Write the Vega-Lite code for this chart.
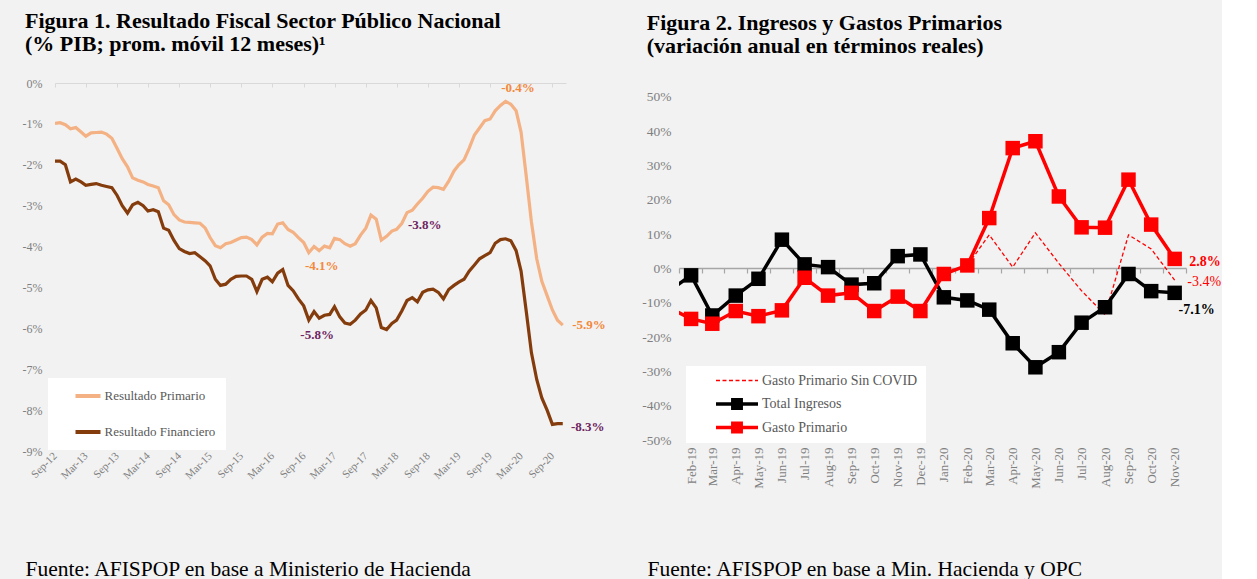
{
  "$schema": "https://vega.github.io/schema/vega-lite/v6.json",
  "background": "#f2f2f2",
  "padding": {"left": 22, "top": 10, "right": 0, "bottom": 0},
  "spacing": 35,
  "resolve": {"scale": {"color": "independent"}, "legend": {"color": "independent"}},
  "config": {
    "view": {"stroke": null},
    "font": "Liberation Serif",
    "axis": {"grid": false, "domain": false, "ticks": false, "labelFont": "Liberation Serif", "labelColor": "#7f7f7f", "labelOverlap": false},
    "legend": {"labelFont": "Liberation Serif", "labelColor": "#595959"}
  },
  "datasets": {
    "fiscal": [
      {"fecha":"2012-09-01","Resultado Primario":-0.99,"Resultado Financiero":-1.91},
      {"fecha":"2012-10-01","Resultado Primario":-0.97,"Resultado Financiero":-1.91},
      {"fecha":"2012-11-01","Resultado Primario":-1.02,"Resultado Financiero":-2.00},
      {"fecha":"2012-12-01","Resultado Primario":-1.12,"Resultado Financiero":-2.42},
      {"fecha":"2013-01-01","Resultado Primario":-1.09,"Resultado Financiero":-2.35},
      {"fecha":"2013-02-01","Resultado Primario":-1.20,"Resultado Financiero":-2.42},
      {"fecha":"2013-03-01","Resultado Primario":-1.30,"Resultado Financiero":-2.50},
      {"fecha":"2013-04-01","Resultado Primario":-1.22,"Resultado Financiero":-2.48},
      {"fecha":"2013-05-01","Resultado Primario":-1.21,"Resultado Financiero":-2.46},
      {"fecha":"2013-06-01","Resultado Primario":-1.20,"Resultado Financiero":-2.50},
      {"fecha":"2013-07-01","Resultado Primario":-1.25,"Resultado Financiero":-2.53},
      {"fecha":"2013-08-01","Resultado Primario":-1.35,"Resultado Financiero":-2.56},
      {"fecha":"2013-09-01","Resultado Primario":-1.60,"Resultado Financiero":-2.75},
      {"fecha":"2013-10-01","Resultado Primario":-1.85,"Resultado Financiero":-3.00},
      {"fecha":"2013-11-01","Resultado Primario":-2.05,"Resultado Financiero":-3.18},
      {"fecha":"2013-12-01","Resultado Primario":-2.32,"Resultado Financiero":-2.98},
      {"fecha":"2014-01-01","Resultado Primario":-2.38,"Resultado Financiero":-2.92},
      {"fecha":"2014-02-01","Resultado Primario":-2.42,"Resultado Financiero":-3.00},
      {"fecha":"2014-03-01","Resultado Primario":-2.48,"Resultado Financiero":-3.13},
      {"fecha":"2014-04-01","Resultado Primario":-2.52,"Resultado Financiero":-3.10},
      {"fecha":"2014-05-01","Resultado Primario":-2.56,"Resultado Financiero":-3.15},
      {"fecha":"2014-06-01","Resultado Primario":-2.88,"Resultado Financiero":-3.55},
      {"fecha":"2014-07-01","Resultado Primario":-2.98,"Resultado Financiero":-3.60},
      {"fecha":"2014-08-01","Resultado Primario":-3.22,"Resultado Financiero":-3.85},
      {"fecha":"2014-09-01","Resultado Primario":-3.35,"Resultado Financiero":-4.05},
      {"fecha":"2014-10-01","Resultado Primario":-3.40,"Resultado Financiero":-4.12},
      {"fecha":"2014-11-01","Resultado Primario":-3.41,"Resultado Financiero":-4.17},
      {"fecha":"2014-12-01","Resultado Primario":-3.42,"Resultado Financiero":-4.15},
      {"fecha":"2015-01-01","Resultado Primario":-3.43,"Resultado Financiero":-4.25},
      {"fecha":"2015-02-01","Resultado Primario":-3.55,"Resultado Financiero":-4.35},
      {"fecha":"2015-03-01","Resultado Primario":-3.78,"Resultado Financiero":-4.47},
      {"fecha":"2015-04-01","Resultado Primario":-3.98,"Resultado Financiero":-4.80},
      {"fecha":"2015-05-01","Resultado Primario":-4.03,"Resultado Financiero":-4.95},
      {"fecha":"2015-06-01","Resultado Primario":-3.93,"Resultado Financiero":-4.92},
      {"fecha":"2015-07-01","Resultado Primario":-3.90,"Resultado Financiero":-4.80},
      {"fecha":"2015-08-01","Resultado Primario":-3.84,"Resultado Financiero":-4.73},
      {"fecha":"2015-09-01","Resultado Primario":-3.78,"Resultado Financiero":-4.72},
      {"fecha":"2015-10-01","Resultado Primario":-3.77,"Resultado Financiero":-4.72},
      {"fecha":"2015-11-01","Resultado Primario":-3.83,"Resultado Financiero":-4.80},
      {"fecha":"2015-12-01","Resultado Primario":-3.96,"Resultado Financiero":-5.10},
      {"fecha":"2016-01-01","Resultado Primario":-3.77,"Resultado Financiero":-4.80},
      {"fecha":"2016-02-01","Resultado Primario":-3.68,"Resultado Financiero":-4.75},
      {"fecha":"2016-03-01","Resultado Primario":-3.69,"Resultado Financiero":-4.86},
      {"fecha":"2016-04-01","Resultado Primario":-3.45,"Resultado Financiero":-4.65},
      {"fecha":"2016-05-01","Resultado Primario":-3.42,"Resultado Financiero":-4.56},
      {"fecha":"2016-06-01","Resultado Primario":-3.58,"Resultado Financiero":-4.95},
      {"fecha":"2016-07-01","Resultado Primario":-3.65,"Resultado Financiero":-5.08},
      {"fecha":"2016-08-01","Resultado Primario":-3.78,"Resultado Financiero":-5.28},
      {"fecha":"2016-09-01","Resultado Primario":-3.90,"Resultado Financiero":-5.45},
      {"fecha":"2016-10-01","Resultado Primario":-4.15,"Resultado Financiero":-5.80},
      {"fecha":"2016-11-01","Resultado Primario":-4.00,"Resultado Financiero":-5.59},
      {"fecha":"2016-12-01","Resultado Primario":-4.10,"Resultado Financiero":-5.75},
      {"fecha":"2017-01-01","Resultado Primario":-3.99,"Resultado Financiero":-5.68},
      {"fecha":"2017-02-01","Resultado Primario":-4.03,"Resultado Financiero":-5.66},
      {"fecha":"2017-03-01","Resultado Primario":-3.80,"Resultado Financiero":-5.47},
      {"fecha":"2017-04-01","Resultado Primario":-3.83,"Resultado Financiero":-5.72},
      {"fecha":"2017-05-01","Resultado Primario":-3.93,"Resultado Financiero":-5.87},
      {"fecha":"2017-06-01","Resultado Primario":-3.99,"Resultado Financiero":-5.90},
      {"fecha":"2017-07-01","Resultado Primario":-3.93,"Resultado Financiero":-5.80},
      {"fecha":"2017-08-01","Resultado Primario":-3.72,"Resultado Financiero":-5.65},
      {"fecha":"2017-09-01","Resultado Primario":-3.55,"Resultado Financiero":-5.55},
      {"fecha":"2017-10-01","Resultado Primario":-3.23,"Resultado Financiero":-5.32},
      {"fecha":"2017-11-01","Resultado Primario":-3.33,"Resultado Financiero":-5.50},
      {"fecha":"2017-12-01","Resultado Primario":-3.84,"Resultado Financiero":-5.98},
      {"fecha":"2018-01-01","Resultado Primario":-3.75,"Resultado Financiero":-6.03},
      {"fecha":"2018-02-01","Resultado Primario":-3.62,"Resultado Financiero":-5.88},
      {"fecha":"2018-03-01","Resultado Primario":-3.58,"Resultado Financiero":-5.80},
      {"fecha":"2018-04-01","Resultado Primario":-3.43,"Resultado Financiero":-5.57},
      {"fecha":"2018-05-01","Resultado Primario":-3.17,"Resultado Financiero":-5.32},
      {"fecha":"2018-06-01","Resultado Primario":-3.11,"Resultado Financiero":-5.25},
      {"fecha":"2018-07-01","Resultado Primario":-2.96,"Resultado Financiero":-5.35},
      {"fecha":"2018-08-01","Resultado Primario":-2.82,"Resultado Financiero":-5.12},
      {"fecha":"2018-09-01","Resultado Primario":-2.65,"Resultado Financiero":-5.06},
      {"fecha":"2018-10-01","Resultado Primario":-2.55,"Resultado Financiero":-5.04},
      {"fecha":"2018-11-01","Resultado Primario":-2.56,"Resultado Financiero":-5.12},
      {"fecha":"2018-12-01","Resultado Primario":-2.60,"Resultado Financiero":-5.28},
      {"fecha":"2019-01-01","Resultado Primario":-2.40,"Resultado Financiero":-5.05},
      {"fecha":"2019-02-01","Resultado Primario":-2.15,"Resultado Financiero":-4.95},
      {"fecha":"2019-03-01","Resultado Primario":-2.00,"Resultado Financiero":-4.87},
      {"fecha":"2019-04-01","Resultado Primario":-1.88,"Resultado Financiero":-4.80},
      {"fecha":"2019-05-01","Resultado Primario":-1.60,"Resultado Financiero":-4.60},
      {"fecha":"2019-06-01","Resultado Primario":-1.27,"Resultado Financiero":-4.45},
      {"fecha":"2019-07-01","Resultado Primario":-1.10,"Resultado Financiero":-4.30},
      {"fecha":"2019-08-01","Resultado Primario":-0.92,"Resultado Financiero":-4.22},
      {"fecha":"2019-09-01","Resultado Primario":-0.88,"Resultado Financiero":-4.15},
      {"fecha":"2019-10-01","Resultado Primario":-0.68,"Resultado Financiero":-3.92},
      {"fecha":"2019-11-01","Resultado Primario":-0.55,"Resultado Financiero":-3.83},
      {"fecha":"2019-12-01","Resultado Primario":-0.45,"Resultado Financiero":-3.81},
      {"fecha":"2020-01-01","Resultado Primario":-0.52,"Resultado Financiero":-3.86},
      {"fecha":"2020-02-01","Resultado Primario":-0.68,"Resultado Financiero":-4.10},
      {"fecha":"2020-03-01","Resultado Primario":-1.20,"Resultado Financiero":-4.60},
      {"fecha":"2020-04-01","Resultado Primario":-2.30,"Resultado Financiero":-5.60},
      {"fecha":"2020-05-01","Resultado Primario":-3.40,"Resultado Financiero":-6.60},
      {"fecha":"2020-06-01","Resultado Primario":-4.30,"Resultado Financiero":-7.25},
      {"fecha":"2020-07-01","Resultado Primario":-4.85,"Resultado Financiero":-7.70},
      {"fecha":"2020-08-01","Resultado Primario":-5.20,"Resultado Financiero":-8.00},
      {"fecha":"2020-09-01","Resultado Primario":-5.55,"Resultado Financiero":-8.35},
      {"fecha":"2020-10-01","Resultado Primario":-5.80,"Resultado Financiero":-8.33},
      {"fecha":"2020-11-01","Resultado Primario":-5.92,"Resultado Financiero":-8.33}
    ],
    "etiquetas1": [
      {"fecha":"2020-02-12","v":-0.12,"txt":"-0.4%","grupo":"P"},
      {"fecha":"2016-12-16","v":-4.47,"txt":"-4.1%","grupo":"P"},
      {"fecha":"2021-04-04","v":-5.92,"txt":"-5.9%","grupo":"P"},
      {"fecha":"2018-08-13","v":-3.47,"txt":"-3.8%","grupo":"F"},
      {"fecha":"2016-11-19","v":-6.16,"txt":"-5.8%","grupo":"F"},
      {"fecha":"2021-03-28","v":-8.41,"txt":"-8.3%","grupo":"F"}
    ],
    "variacion": [
      {"mes":"2019-01-01","serie":"Total Ingresos","v":-6.8},
      {"mes":"2019-02-01","serie":"Total Ingresos","v":-2.0},
      {"mes":"2019-03-01","serie":"Total Ingresos","v":-13.7},
      {"mes":"2019-04-01","serie":"Total Ingresos","v":-7.9},
      {"mes":"2019-05-01","serie":"Total Ingresos","v":-3.0},
      {"mes":"2019-06-01","serie":"Total Ingresos","v":8.4},
      {"mes":"2019-07-01","serie":"Total Ingresos","v":1.2},
      {"mes":"2019-08-01","serie":"Total Ingresos","v":0.4},
      {"mes":"2019-09-01","serie":"Total Ingresos","v":-4.7},
      {"mes":"2019-10-01","serie":"Total Ingresos","v":-4.3},
      {"mes":"2019-11-01","serie":"Total Ingresos","v":3.6},
      {"mes":"2019-12-01","serie":"Total Ingresos","v":4.1},
      {"mes":"2020-01-01","serie":"Total Ingresos","v":-8.4},
      {"mes":"2020-02-01","serie":"Total Ingresos","v":-9.3},
      {"mes":"2020-03-01","serie":"Total Ingresos","v":-12.0},
      {"mes":"2020-04-01","serie":"Total Ingresos","v":-21.8},
      {"mes":"2020-05-01","serie":"Total Ingresos","v":-28.8},
      {"mes":"2020-06-01","serie":"Total Ingresos","v":-24.4},
      {"mes":"2020-07-01","serie":"Total Ingresos","v":-15.8},
      {"mes":"2020-08-01","serie":"Total Ingresos","v":-11.3},
      {"mes":"2020-09-01","serie":"Total Ingresos","v":-1.6},
      {"mes":"2020-10-01","serie":"Total Ingresos","v":-6.6},
      {"mes":"2020-11-01","serie":"Total Ingresos","v":-7.1},
      {"mes":"2019-01-01","serie":"Gasto Primario","v":-11.2},
      {"mes":"2019-02-01","serie":"Gasto Primario","v":-14.7},
      {"mes":"2019-03-01","serie":"Gasto Primario","v":-16.1},
      {"mes":"2019-04-01","serie":"Gasto Primario","v":-12.4},
      {"mes":"2019-05-01","serie":"Gasto Primario","v":-13.9},
      {"mes":"2019-06-01","serie":"Gasto Primario","v":-12.2},
      {"mes":"2019-07-01","serie":"Gasto Primario","v":-2.7},
      {"mes":"2019-08-01","serie":"Gasto Primario","v":-7.9},
      {"mes":"2019-09-01","serie":"Gasto Primario","v":-7.1},
      {"mes":"2019-10-01","serie":"Gasto Primario","v":-12.4},
      {"mes":"2019-11-01","serie":"Gasto Primario","v":-8.2},
      {"mes":"2019-12-01","serie":"Gasto Primario","v":-12.4},
      {"mes":"2020-01-01","serie":"Gasto Primario","v":-1.6},
      {"mes":"2020-02-01","serie":"Gasto Primario","v":0.9},
      {"mes":"2020-03-01","serie":"Gasto Primario","v":14.7},
      {"mes":"2020-04-01","serie":"Gasto Primario","v":35.1},
      {"mes":"2020-05-01","serie":"Gasto Primario","v":37.1},
      {"mes":"2020-06-01","serie":"Gasto Primario","v":21.0},
      {"mes":"2020-07-01","serie":"Gasto Primario","v":12.0},
      {"mes":"2020-08-01","serie":"Gasto Primario","v":11.9},
      {"mes":"2020-09-01","serie":"Gasto Primario","v":25.9},
      {"mes":"2020-10-01","serie":"Gasto Primario","v":12.8},
      {"mes":"2020-11-01","serie":"Gasto Primario","v":2.8},
      {"mes":"2020-01-01","serie":"Gasto Primario Sin COVID","v":-1.6},
      {"mes":"2020-02-01","serie":"Gasto Primario Sin COVID","v":0.9},
      {"mes":"2020-03-01","serie":"Gasto Primario Sin COVID","v":9.8},
      {"mes":"2020-04-01","serie":"Gasto Primario Sin COVID","v":0.4},
      {"mes":"2020-05-01","serie":"Gasto Primario Sin COVID","v":10.4},
      {"mes":"2020-06-01","serie":"Gasto Primario Sin COVID","v":1.5},
      {"mes":"2020-07-01","serie":"Gasto Primario Sin COVID","v":-6.5},
      {"mes":"2020-08-01","serie":"Gasto Primario Sin COVID","v":-13.5},
      {"mes":"2020-09-01","serie":"Gasto Primario Sin COVID","v":9.8},
      {"mes":"2020-10-01","serie":"Gasto Primario Sin COVID","v":5.7},
      {"mes":"2020-11-01","serie":"Gasto Primario Sin COVID","v":-3.4}
    ],
    "etiquetas2": [
      {"mes":"2020-12-11","v":2.0,"txt":"2.8%","grupo":"GP"},
      {"mes":"2020-12-10","v":-3.8,"txt":"-3.4%","grupo":"SC"},
      {"mes":"2020-11-30","v":-12.0,"txt":"-7.1%","grupo":"TI"}
    ]
  },
  "hconcat": [
    {
      "width": 511,
      "height": 368,
      "title": {
        "text": ["Figura 1. Resultado Fiscal Sector Público Nacional", "(% PIB; prom. móvil 12 meses)¹"],
        "anchor": "start", "frame": "bounds", "font": "Liberation Serif", "fontSize": 22, "fontWeight": "bold",
        "color": "#000000", "lineHeight": 23, "offset": 21, "dx": 3
      },
      "layer": [
        {
          "data": {"name": "fiscal"},
          "transform": [{"fold": ["Resultado Primario", "Resultado Financiero"], "as": ["serie", "valor"]}],
          "mark": {"type": "line", "strokeWidth": 3.2, "clip": true},
          "encoding": {
            "x": {
              "field": "fecha", "type": "temporal",
              "scale": {"domain": [{"year": 2012, "month": 9, "date": 1}, {"year": 2020, "month": 11, "date": 20}]},
              "axis": {
                "values": [
                  {"year": 2012, "month": 9, "date": 1}, {"year": 2013, "month": 3, "date": 1}, {"year": 2013, "month": 9, "date": 1},
                  {"year": 2014, "month": 3, "date": 1}, {"year": 2014, "month": 9, "date": 1}, {"year": 2015, "month": 3, "date": 1},
                  {"year": 2015, "month": 9, "date": 1}, {"year": 2016, "month": 3, "date": 1}, {"year": 2016, "month": 9, "date": 1},
                  {"year": 2017, "month": 3, "date": 1}, {"year": 2017, "month": 9, "date": 1}, {"year": 2018, "month": 3, "date": 1},
                  {"year": 2018, "month": 9, "date": 1}, {"year": 2019, "month": 3, "date": 1}, {"year": 2019, "month": 9, "date": 1},
                  {"year": 2020, "month": 3, "date": 1}, {"year": 2020, "month": 9, "date": 1}
                ],
                "format": "%b-%y", "labelAngle": -45, "labelAlign": "right", "labelBaseline": "middle",
                "labelFontSize": 11, "labelPadding": 3, "labelOverlap": false,
                "title": "Fuente: AFISPOP en base a Ministerio de Hacienda",
                "titleFont": "Liberation Serif", "titleFontSize": 21.5, "titleFontWeight": "normal", "titleColor": "#000000",
                "titleAnchor": "start", "titleAlign": "left", "titleBaseline": "alphabetic", "titleX": -30, "titleY": 124
              }
            },
            "y": {
              "field": "valor", "type": "quantitative",
              "scale": {"domain": [-9, 0], "nice": false, "zero": false},
              "axis": {"values": [0, -1, -2, -3, -4, -5, -6, -7, -8, -9], "labelExpr": "datum.value + '%'", "labelFontSize": 12, "labelPadding": 13, "labelOverlap": false, "title": null}
            },
            "color": {
              "field": "serie", "type": "nominal",
              "scale": {"domain": ["Resultado Primario", "Resultado Financiero"], "range": ["#F4B183", "#843C0C"]},
              "legend": {
                "title": null, "orient": "none", "legendX": -7, "legendY": 295, "direction": "vertical",
                "fillColor": "#ffffff", "padding": 10.5, "symbolOffset": 15, "symbolType": "stroke", "symbolSize": 625,
                "symbolStrokeWidth": 4, "labelFontSize": 13, "rowPadding": 21, "clipHeight": 15, "labelOffset": 2
              }
            }
          }
        },
        {
          "data": {"name": "etiquetas1"},
          "transform": [{"filter": "datum.grupo === 'P'"}],
          "mark": {"type": "text", "font": "Liberation Serif", "fontSize": 13, "fontWeight": "bold", "color": "#F4883A", "align": "center", "baseline": "middle"},
          "encoding": {
            "x": {
              "field": "fecha", "type": "temporal",
              "axis": {
                "orient": "bottom", "offset": -368, "domain": true, "domainColor": "#d9d9d9", "domainWidth": 1.2,
                "ticks": true, "tickSize": 4, "tickColor": "#d9d9d9", "labels": false, "title": null,
                "values": [
                  {"year": 2012, "month": 9, "date": 1}, {"year": 2013, "month": 3, "date": 1}, {"year": 2013, "month": 9, "date": 1},
                  {"year": 2014, "month": 3, "date": 1}, {"year": 2014, "month": 9, "date": 1}, {"year": 2015, "month": 3, "date": 1},
                  {"year": 2015, "month": 9, "date": 1}, {"year": 2016, "month": 3, "date": 1}, {"year": 2016, "month": 9, "date": 1},
                  {"year": 2017, "month": 3, "date": 1}, {"year": 2017, "month": 9, "date": 1}, {"year": 2018, "month": 3, "date": 1},
                  {"year": 2018, "month": 9, "date": 1}, {"year": 2019, "month": 3, "date": 1}, {"year": 2019, "month": 9, "date": 1},
                  {"year": 2020, "month": 3, "date": 1}, {"year": 2020, "month": 9, "date": 1}
                ]
              }
            },
            "y": {"field": "v", "type": "quantitative"},
            "text": {"field": "txt"}
          }
        },
        {
          "data": {"name": "etiquetas1"},
          "transform": [{"filter": "datum.grupo === 'F'"}],
          "mark": {"type": "text", "font": "Liberation Serif", "fontSize": 13, "fontWeight": "bold", "color": "#6E2561", "align": "center", "baseline": "middle"},
          "encoding": {
            "x": {"field": "fecha", "type": "temporal", "axis": null},
            "y": {"field": "v", "type": "quantitative"},
            "text": {"field": "txt"}
          }
        }
      ],
      "resolve": {"axis": {"x": "independent"}}
    },
    {
      "width": 507,
      "height": 357,
      "title": {
        "text": ["Figura 2. Ingresos y Gastos Primarios", "(variación anual en términos reales)"],
        "anchor": "start", "frame": "bounds", "font": "Liberation Serif", "fontSize": 22, "fontWeight": "bold",
        "color": "#000000", "lineHeight": 23, "offset": 25, "dx": 5
      },
      "layer": [
        {
          "data": {"name": "variacion"},
          "transform": [{"filter": "datum.serie === 'Gasto Primario Sin COVID'"}],
          "mark": {"type": "line", "strokeWidth": 1.3, "strokeDash": [4, 2.5], "clip": true},
          "encoding": {
            "x": {
              "field": "mes", "type": "temporal",
              "scale": {"domain": [{"year": 2019, "month": 1, "date": 16}, {"year": 2020, "month": 11, "date": 16}]},
              "axis": {
                "values": [
                  {"year": 2019, "month": 2, "date": 1}, {"year": 2019, "month": 3, "date": 1}, {"year": 2019, "month": 4, "date": 1},
                  {"year": 2019, "month": 5, "date": 1}, {"year": 2019, "month": 6, "date": 1}, {"year": 2019, "month": 7, "date": 1},
                  {"year": 2019, "month": 8, "date": 1}, {"year": 2019, "month": 9, "date": 1}, {"year": 2019, "month": 10, "date": 1},
                  {"year": 2019, "month": 11, "date": 1}, {"year": 2019, "month": 12, "date": 1}, {"year": 2020, "month": 1, "date": 1},
                  {"year": 2020, "month": 2, "date": 1}, {"year": 2020, "month": 3, "date": 1}, {"year": 2020, "month": 4, "date": 1},
                  {"year": 2020, "month": 5, "date": 1}, {"year": 2020, "month": 6, "date": 1}, {"year": 2020, "month": 7, "date": 1},
                  {"year": 2020, "month": 8, "date": 1}, {"year": 2020, "month": 9, "date": 1}, {"year": 2020, "month": 10, "date": 1},
                  {"year": 2020, "month": 11, "date": 1}
                ],
                "format": "%b-%y", "labelAngle": -90, "labelAlign": "right", "labelBaseline": "middle",
                "labelFontSize": 13, "labelPadding": 7, "labelOverlap": false,
                "title": "Fuente: AFISPOP en base a Min. Hacienda y OPC",
                "titleFont": "Liberation Serif", "titleFontSize": 21.5, "titleFontWeight": "normal", "titleColor": "#000000",
                "titleAnchor": "start", "titleAlign": "left", "titleBaseline": "alphabetic", "titleX": -32, "titleY": 135
              }
            },
            "y": {
              "field": "v", "type": "quantitative",
              "scale": {"domain": [-50, 54.08], "nice": false},
              "axis": {"values": [50, 40, 30, 20, 10, 0, -10, -20, -30, -40, -50], "labelExpr": "datum.value + '%'", "labelFontSize": 13.5, "labelPadding": 8, "labelOverlap": false, "labelSeparation": 0, "title": null}
            },
            "color": {
              "field": "serie", "type": "nominal",
              "scale": {"domain": ["Gasto Primario Sin COVID", "Total Ingresos", "Gasto Primario"], "range": ["#ff0000", "#000000", "#ff0000"]},
              "legend": {
                "title": null, "orient": "none", "legendX": 7, "legendY": 283, "direction": "vertical",
                "fillColor": "#ffffff", "padding": 8, "symbolType": "stroke", "symbolSize": 1764,
                "labelFontSize": 14, "rowPadding": 8.5, "clipHeight": 13, "labelOffset": 4,
                "encode": {
                  "symbols": {
                    "update": {
                      "x": {"value": 43},
                      "size": {"value": 1764},
                      "shape": {"signal": "datum.value === 'Gasto Primario Sin COVID' ? 'stroke' : 'M-1,0H1M-0.2,-0.2H0.2V0.2H-0.2Z'"},
                      "strokeDash": {"signal": "datum.value === 'Gasto Primario Sin COVID' ? [4, 2.5] : [1, 0]"},
                      "strokeWidth": {"signal": "datum.value === 'Gasto Primario Sin COVID' ? 1.5 : 3.5"},
                      "fill": {"signal": "datum.value === 'Total Ingresos' ? '#000000' : '#ff0000'"},
                      "stroke": {"signal": "datum.value === 'Total Ingresos' ? '#000000' : '#ff0000'"},
                      "fillOpacity": {"value": 1},
                      "strokeOpacity": {"value": 1}
                    }
                  },
                  "labels": {
                    "update": {
                      "x": {"value": 68}
                    }
                  }
                }
              }
            }
          }
        },
        {
          "data": {"name": "variacion"},
          "transform": [{"filter": "datum.serie === 'Total Ingresos'"}],
          "mark": {"type": "line", "strokeWidth": 3.5, "clip": true, "point": {"shape": "square", "size": 210, "filled": true, "opacity": 1}},
          "encoding": {
            "x": {"field": "mes", "type": "temporal", "axis": null},
            "y": {"field": "v", "type": "quantitative", "axis": null},
            "color": {"field": "serie", "type": "nominal"}
          }
        },
        {
          "data": {"name": "variacion"},
          "transform": [{"filter": "datum.serie === 'Gasto Primario'"}],
          "mark": {"type": "line", "strokeWidth": 3.5, "clip": true, "point": {"shape": "square", "size": 210, "filled": true, "opacity": 1}},
          "encoding": {
            "x": {"field": "mes", "type": "temporal", "axis": null},
            "y": {"field": "v", "type": "quantitative", "axis": null},
            "color": {"field": "serie", "type": "nominal"}
          }
        },
        {
          "data": {"name": "etiquetas2"},
          "transform": [{"filter": "datum.grupo === 'GP'"}],
          "mark": {"type": "text", "font": "Liberation Serif", "fontSize": 14, "fontWeight": "bold", "color": "#ff0000", "align": "center", "baseline": "middle"},
          "encoding": {
            "x": {
              "field": "mes", "type": "temporal",
              "axis": {
                "orient": "bottom", "offset": -172, "domain": true, "domainColor": "#a6a6a6", "domainWidth": 1.5,
                "ticks": true, "tickSize": 5, "tickColor": "#a6a6a6", "tickWidth": 1.2, "labels": false, "title": null,
                "values": [
                  {"year": 2019, "month": 1, "date": 16}, {"year": 2019, "month": 2, "date": 15}, {"year": 2019, "month": 3, "date": 16},
                  {"year": 2019, "month": 4, "date": 16}, {"year": 2019, "month": 5, "date": 16}, {"year": 2019, "month": 6, "date": 16},
                  {"year": 2019, "month": 7, "date": 16}, {"year": 2019, "month": 8, "date": 16}, {"year": 2019, "month": 9, "date": 16},
                  {"year": 2019, "month": 10, "date": 16}, {"year": 2019, "month": 11, "date": 16}, {"year": 2019, "month": 12, "date": 16},
                  {"year": 2020, "month": 1, "date": 16}, {"year": 2020, "month": 2, "date": 15}, {"year": 2020, "month": 3, "date": 16},
                  {"year": 2020, "month": 4, "date": 16}, {"year": 2020, "month": 5, "date": 16}, {"year": 2020, "month": 6, "date": 16},
                  {"year": 2020, "month": 7, "date": 16}, {"year": 2020, "month": 8, "date": 16}, {"year": 2020, "month": 9, "date": 16},
                  {"year": 2020, "month": 10, "date": 16}, {"year": 2020, "month": 11, "date": 16}
                ]
              }
            },
            "y": {"field": "v", "type": "quantitative", "axis": null},
            "text": {"field": "txt"}
          }
        },
        {
          "data": {"name": "etiquetas2"},
          "transform": [{"filter": "datum.grupo === 'SC'"}],
          "mark": {"type": "text", "font": "Liberation Serif", "fontSize": 14, "color": "#ff0000", "align": "center", "baseline": "middle"},
          "encoding": {
            "x": {"field": "mes", "type": "temporal", "axis": null},
            "y": {"field": "v", "type": "quantitative", "axis": null},
            "text": {"field": "txt"}
          }
        },
        {
          "data": {"name": "etiquetas2"},
          "transform": [{"filter": "datum.grupo === 'TI'"}],
          "mark": {"type": "text", "font": "Liberation Serif", "fontSize": 14, "fontWeight": "bold", "color": "#000000", "align": "center", "baseline": "middle"},
          "encoding": {
            "x": {"field": "mes", "type": "temporal", "axis": null},
            "y": {"field": "v", "type": "quantitative", "axis": null},
            "text": {"field": "txt"}
          }
        }
      ],
      "resolve": {"axis": {"x": "independent", "y": "independent"}}
    }
  ]
}
